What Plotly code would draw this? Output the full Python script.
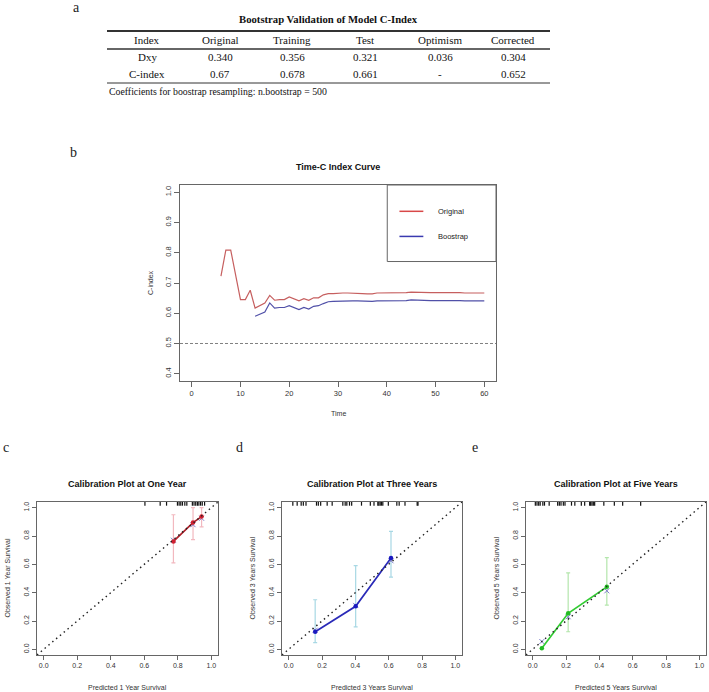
import plotly.graph_objects as go

W, H = 709, 692

# ---------------- data ----------------
table_title = "Bootstrap Validation of Model C-Index"
table_header = ["Index", "Original", "Training", "Test", "Optimism", "Corrected"]
row_dxy = ["Dxy", "0.340", "0.356", "0.321", "0.036", "0.304"]
row_cindex = ["C-index", "0.67", "0.678", "0.661", "-", "0.652"]
table_note = "Coefficients for boostrap resampling: n.bootstrap = 500"

time_original = [6, 7, 8, 9, 10, 11, 12, 13, 14, 15, 16, 17, 18, 19, 20, 21, 22, 23, 24, 25,
                 26, 27, 28, 29, 30, 31, 32, 33, 34, 35, 36, 37, 38, 39, 40, 41, 42, 43, 44, 45,
                 46, 47, 48, 49, 50, 51, 52, 53, 54, 55, 56, 57, 58, 59, 60]
cindex_original = [0.723, 0.809, 0.809, 0.727, 0.645, 0.645, 0.676, 0.617, 0.625, 0.634,
                   0.659, 0.643, 0.645, 0.645, 0.654, 0.648, 0.641, 0.648, 0.643, 0.651,
                   0.651, 0.661, 0.665, 0.665, 0.667, 0.667, 0.667, 0.667, 0.667, 0.665,
                   0.664, 0.664, 0.667, 0.667, 0.667, 0.667, 0.669, 0.669, 0.668, 0.670,
                   0.669, 0.668, 0.668, 0.668, 0.668, 0.668, 0.669, 0.670, 0.670, 0.668,
                   0.667, 0.667, 0.667, 0.667, 0.667]
time_boot = [13, 14, 15, 16, 17, 18, 19, 20, 21, 22, 23, 24, 25, 26, 27, 28, 29, 30, 31, 32,
             33, 34, 35, 36, 37, 38, 39, 40, 41, 42, 43, 44, 45, 46, 47, 48, 49, 50, 51, 52,
             53, 54, 55, 56, 57, 58, 59, 60]
cindex_boot = [0.590, 0.597, 0.604, 0.634, 0.617, 0.619, 0.619, 0.625, 0.619, 0.612,
               0.619, 0.614, 0.623, 0.625, 0.632, 0.638, 0.639, 0.640, 0.641, 0.641,
               0.641, 0.641, 0.640, 0.639, 0.639, 0.641, 0.641, 0.641, 0.641, 0.642,
               0.642, 0.642, 0.644, 0.643, 0.642, 0.642, 0.642, 0.642, 0.642, 0.643,
               0.644, 0.644, 0.642, 0.641, 0.641, 0.641, 0.641, 0.641]
legend_labels = ["Original", "Boostrap"]

# calibration 1 year
c1_pred = [0.774, 0.891, 0.942]
c1_obs = [0.762, 0.895, 0.937]
c1_low = [0.610, 0.775, 0.865]
c1_high = [0.950, 1.000, 1.000]
c1_corr = [0.770, 0.880, 0.925]
c1_rug = [0.604, 0.695, 0.733, 0.798, 0.808, 0.818, 0.828, 0.842, 0.854, 0.887, 0.897,
          0.907, 0.917, 0.926, 0.936, 0.946, 0.960]

# calibration 3 years
c3_pred = [0.159, 0.402, 0.614]
c3_obs = [0.124, 0.304, 0.645]
c3_low = [0.047, 0.159, 0.509]
c3_high = [0.350, 0.591, 0.832]
c3_corr = [0.135, 0.310, 0.625]
c3_rug = [0.025, 0.051, 0.075, 0.088, 0.104, 0.167, 0.178, 0.192, 0.231, 0.261, 0.325,
          0.339, 0.349, 0.365, 0.378, 0.437, 0.490, 0.512, 0.535, 0.541, 0.549, 0.557,
          0.565, 0.598, 0.649, 0.663, 0.698, 0.771, 0.776]

# calibration 5 years
c5_pred = [0.055, 0.213, 0.445]
c5_obs = [0.007, 0.254, 0.441]
c5_low = [0.007, 0.124, 0.312]
c5_high = [0.007, 0.540, 0.648]
c5_corr = [0.055, 0.230, 0.413]
c5_rug = [0.016, 0.026, 0.036, 0.045, 0.061, 0.071, 0.099, 0.150, 0.160, 0.170, 0.184,
          0.194, 0.233, 0.253, 0.292, 0.312, 0.342, 0.348, 0.356, 0.364, 0.372, 0.427,
          0.490, 0.540, 0.648]

# ---------------- helpers ----------------
SERIF = "Liberation Serif, Times New Roman, serif"
SANS = "Liberation Sans, Arial, sans-serif"
AX = "#666666"
TXT = "#333333"


def px(x):
    return x / W


def py(y):
    return 1 - y / H


fig = go.Figure()
annotations = []
shapes = []


def text(x, y, s, size, family=SANS, bold=False, angle=0, xanchor="center", color="#111"):
    annotations.append(dict(
        x=px(x), y=py(y), xref="paper", yref="paper", text=("<b>%s</b>" % s) if bold else s,
        showarrow=False, xanchor=xanchor, yanchor="middle", textangle=angle,
        font=dict(family=family, size=size, color=color)))


def hline(x0, x1, y, width, color="#333333"):
    shapes.append(dict(type="line", xref="paper", yref="paper", x0=px(x0), x1=px(x1),
                       y0=py(y), y1=py(y), line=dict(color=color, width=width)))


# ---------------- table (a) ----------------
text(76, 7, "a", 14, family=SERIF, color="#222")
text(328, 19, table_title, 10.7, family=SERIF, bold=True)
col_x = [147, 220, 292, 365, 440, 513]
hline(107, 550, 31, 2)
hline(107, 550, 49, 1.5)
hline(107, 550, 83, 1)
for cx, h, d, c in zip(col_x, table_header, row_dxy, row_cindex):
    text(cx, 40, h, 11, family=SERIF)
    text(cx, 57, d, 11, family=SERIF)
    text(cx, 74, c, 11, family=SERIF)
text(107, 92, table_note, 9.8, family=SERIF, xanchor="left")

# ---------------- Time-C index (b) ----------------
text(73, 153, "b", 14, family=SERIF, color="#222")
text(338, 167, "Time-C Index Curve", 9, bold=True)
text(150, 283, "C-index", 7, angle=-90, color=TXT)
text(338, 413, "Time", 7, color=TXT)

RED_LINE = "#c65f5f"
BLUE_LINE = "#5050a8"
fig.add_trace(go.Scatter(x=time_original, y=cindex_original, mode="lines",
                         line=dict(color=RED_LINE, width=1.2), xaxis="x", yaxis="y",
                         name=legend_labels[0]))
fig.add_trace(go.Scatter(x=time_boot, y=cindex_boot, mode="lines",
                         line=dict(color=BLUE_LINE, width=1.2), xaxis="x", yaxis="y",
                         name=legend_labels[1]))
shapes.append(dict(type="line", xref="x domain", yref="y", x0=0, x1=1, y0=0.5, y1=0.5,
                   line=dict(color="#808080", width=1, dash="3px,2px")))
# legend box
shapes.append(dict(type="rect", xref="x", yref="y", x0=40.1, x1=62.4, y0=0.771, y1=1.024,
                   line=dict(color=AX, width=1), fillcolor="rgba(0,0,0,0)"))
for yy, col, lab in [(0.937, "#d84848", legend_labels[0]), (0.854, "#3a3ab0", legend_labels[1])]:
    shapes.append(dict(type="line", xref="x", yref="y", x0=42.6, x1=47.5, y0=yy, y1=yy,
                       line=dict(color=col, width=1.5)))
    annotations.append(dict(x=50.0, y=yy, xref="x", yref="y", text=lab, showarrow=False,
                            xanchor="left", yanchor="middle",
                            font=dict(family=SANS, size=7.5, color="#222")))

axis_common = dict(showgrid=False, zeroline=False, showline=True, mirror=True, linecolor=AX,
                   linewidth=1, ticks="outside", ticklen=5, tickcolor=AX, tickwidth=1,
                   tickfont=dict(family=SANS, size=7.5, color=TXT))

layout_axes = {}
layout_axes["xaxis"] = dict(axis_common, domain=[px(180), px(496)], range=[-2.4, 62.4],
                            tickvals=[0, 10, 20, 30, 40, 50, 60], anchor="y")
layout_axes["yaxis"] = dict(axis_common, domain=[py(381), py(185)], range=[0.376, 1.024],
                            tickvals=[0.4, 0.5, 0.6, 0.7, 0.8, 0.9, 1.0], tickformat=".1f",
                            tickangle=-90, anchor="x")

# ---------------- calibration plots ----------------
calib = [
    dict(letter="c", lx=6, box=(37, 218), title="Calibration Plot at One Year",
         xl="Predicted 1 Year Survival", yl="Observed 1 Year Survival",
         pred=c1_pred, obs=c1_obs, low=c1_low, high=c1_high, corr=c1_corr, rug=c1_rug,
         line="#b0202a", point="#d02030", err="#f2b8bf"),
    dict(letter="d", lx=240, box=(282, 462), title="Calibration Plot at Three Years",
         xl="Predicted 3 Years Survival", yl="Observed 3 Years Survival",
         pred=c3_pred, obs=c3_obs, low=c3_low, high=c3_high, corr=c3_corr, rug=c3_rug,
         line="#2a2ab8", point="#1a1ac0", err="#a8d8e4"),
    dict(letter="e", lx=475, box=(526, 706), title="Calibration Plot at Five Years",
         xl="Predicted 5 Years Survival", yl="Observed 5 Years Survival",
         pred=c5_pred, obs=c5_obs, low=c5_low, high=c5_high, corr=c5_corr, rug=c5_rug,
         line="#33cc33", point="#22bb22", err="#b4e6ac"),
]

top, bottom = 502, 655
for i, c in enumerate(calib):
    n = i + 2
    xa, ya = "x%d" % n, "y%d" % n
    x0, x1 = c["box"]
    cx = (x0 + x1) / 2
    text(c["lx"], 447, c["letter"], 14, family=SERIF, color="#222")
    text(cx, 484, c["title"], 9, bold=True)
    text(cx, 687, c["xl"], 7, color=TXT)
    text(x0 - 30, (top + bottom) / 2, c["yl"], 7, angle=-90, color=TXT)

    # ideal diagonal
    shapes.append(dict(type="line", xref=xa, yref=ya, x0=-0.04, y0=-0.04, x1=1.04, y1=1.04,
                       line=dict(color="#222", width=1.4, dash="1.5px,3.5px")))
    # rug
    rx, ry = [], []
    for v in c["rug"]:
        rx += [v, v, None]
        ry += [1.04, 1.014, None]
    fig.add_trace(go.Scatter(x=rx, y=ry, mode="lines", line=dict(color="#111", width=1.2),
                             xaxis=xa, yaxis=ya, hoverinfo="skip"))
    # error bars
    fig.add_trace(go.Scatter(
        x=c["pred"], y=c["obs"], mode="markers", marker=dict(size=1, color="rgba(0,0,0,0)"),
        error_y=dict(type="data", symmetric=False,
                     array=[h - o for h, o in zip(c["high"], c["obs"])],
                     arrayminus=[o - l for o, l in zip(c["obs"], c["low"])],
                     color=c["err"], thickness=1.2, width=2),
        xaxis=xa, yaxis=ya))
    # bias corrected marks
    fig.add_trace(go.Scatter(x=c["pred"], y=c["corr"], mode="markers",
                             marker=dict(symbol="x-thin", size=5, line=dict(color="#8080cc", width=1)),
                             xaxis=xa, yaxis=ya))
    # calibration line
    fig.add_trace(go.Scatter(x=c["pred"], y=c["obs"], mode="lines+markers",
                             line=dict(color=c["line"], width=1.7),
                             marker=dict(size=4.5, color=c["point"]),
                             xaxis=xa, yaxis=ya))

    ac = dict(axis_common, tickfont=dict(family=SANS, size=7, color=TXT), ticklen=4)
    layout_axes["xaxis%d" % n] = dict(ac, domain=[px(x0), px(x1)], range=[-0.04, 1.04],
                                      tickvals=[0, 0.2, 0.4, 0.6, 0.8, 1.0], tickformat=".1f",
                                      anchor=ya)
    layout_axes["yaxis%d" % n] = dict(ac, domain=[py(bottom), py(top)], range=[-0.04, 1.04],
                                      tickvals=[0, 0.2, 0.4, 0.6, 0.8, 1.0], tickformat=".1f",
                                      tickangle=-90, anchor=xa)

fig.update_layout(
    width=W, height=H, margin=dict(l=0, r=0, t=0, b=0),
    paper_bgcolor="white", plot_bgcolor="white", showlegend=False,
    annotations=annotations, shapes=shapes, **layout_axes)

fig.write_html("out.html")
